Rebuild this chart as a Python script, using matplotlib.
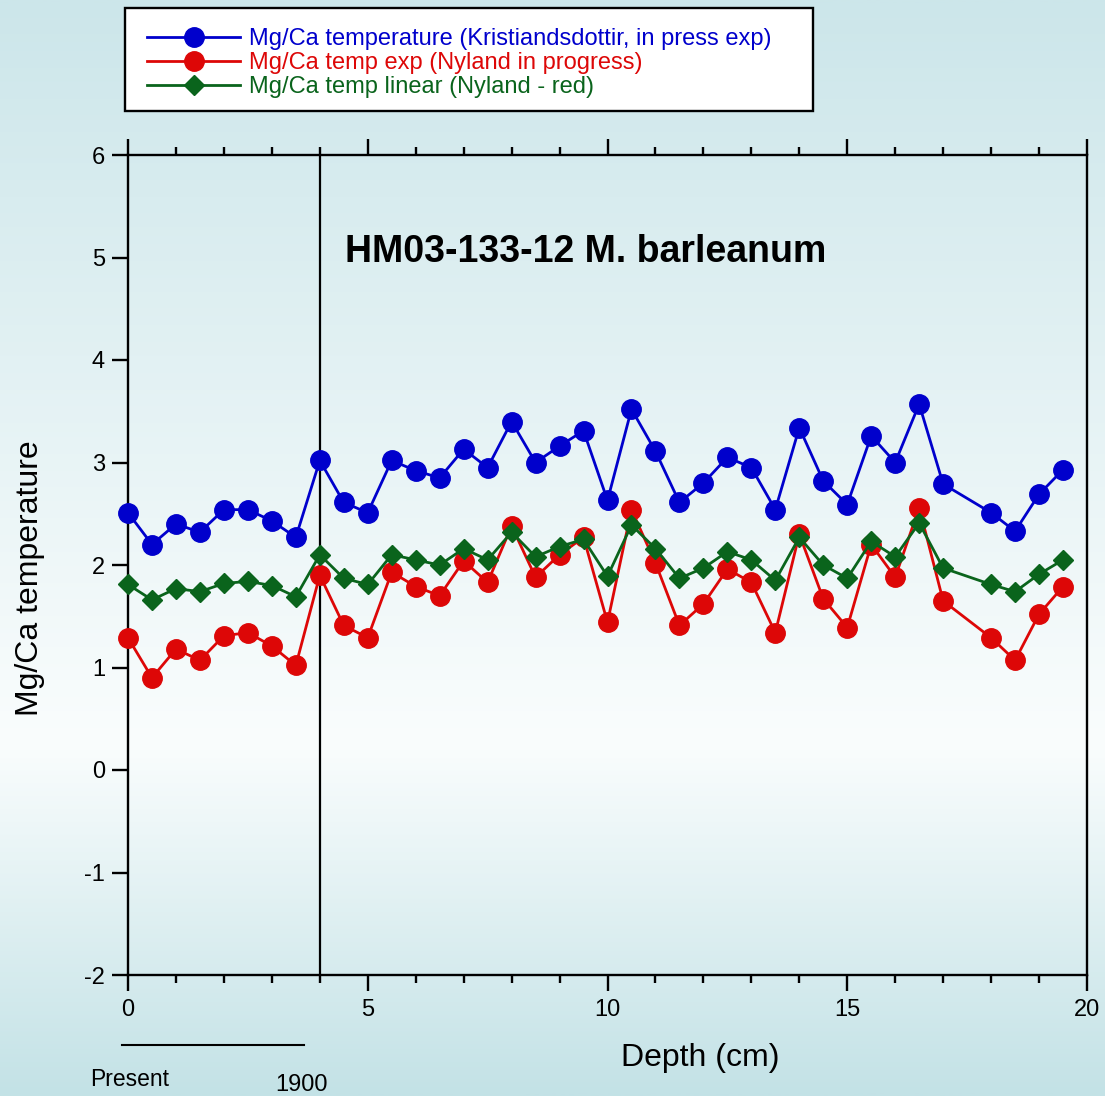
import numpy as np
import matplotlib
matplotlib.use("Agg")
import matplotlib.pyplot as plt
from matplotlib.patches import Rectangle
from matplotlib.lines import Line2D
from matplotlib.colors import LinearSegmentedColormap

plt.rcParams['font.family'] = ['Liberation Sans', 'DejaVu Sans']
plt.rcParams['axes.unicode_minus'] = False

# depth (cm) for each sample
depth = [0, 0.5, 1, 1.5, 2, 2.5, 3, 3.5, 4, 4.5, 5, 5.5, 6, 6.5, 7, 7.5, 8, 8.5,
         9, 9.5, 10, 10.5, 11, 11.5, 12, 12.5, 13, 13.5, 14, 14.5, 15, 15.5, 16,
         16.5, 17, 18, 18.5, 19, 19.5]

temp_kristiansdottir = [2.51, 2.20, 2.40, 2.32, 2.54, 2.54, 2.43, 2.27, 3.02, 2.61,
                        2.51, 3.02, 2.92, 2.85, 3.13, 2.95, 3.40, 3.00, 3.16, 3.31,
                        2.63, 3.52, 3.11, 2.61, 2.80, 3.05, 2.95, 2.54, 3.34, 2.82,
                        2.59, 3.26, 3.00, 3.57, 2.79, 2.51, 2.33, 2.69, 2.93]

temp_exp = [1.29, 0.90, 1.18, 1.07, 1.31, 1.34, 1.21, 1.02, 1.90, 1.41,
            1.29, 1.93, 1.79, 1.70, 2.04, 1.83, 2.38, 1.88, 2.10, 2.27,
            1.44, 2.54, 2.02, 1.41, 1.62, 1.96, 1.83, 1.34, 2.30, 1.67,
            1.39, 2.20, 1.88, 2.56, 1.65, 1.29, 1.07, 1.52, 1.79]

temp_linear = [1.81, 1.66, 1.77, 1.74, 1.82, 1.84, 1.80, 1.69, 2.10, 1.87,
               1.81, 2.10, 2.05, 2.00, 2.16, 2.05, 2.32, 2.08, 2.18, 2.25,
               1.89, 2.39, 2.16, 1.87, 1.97, 2.13, 2.05, 1.85, 2.27, 2.00,
               1.87, 2.23, 2.08, 2.41, 1.97, 1.81, 1.74, 1.91, 2.05]

labels = ["Mg/Ca temperature (Kristiandsdottir, in press exp)",
          "Mg/Ca temp exp (Nyland in progress)",
          "Mg/Ca temp linear (Nyland - red)"]

W, H = 1105, 1096
fig = plt.figure(figsize=(W / 100, H / 100), dpi=100)

# background gradient: light blue top and bottom, near white below middle
bg = fig.add_axes([0, 0, 1, 1], zorder=-10)
cmap = LinearSegmentedColormap.from_list(
    "bg", [(0.0, (195/255, 226/255, 230/255)),
           (0.32, (250/255, 253/255, 253/255)),
           (1.0, (204/255, 230/255, 234/255))])
grad = np.linspace(0, 1, 512).reshape(-1, 1)
bg.imshow(grad, aspect='auto', cmap=cmap, origin='lower', extent=[0, 1, 0, 1])
bg.set_axis_off()

ax = fig.add_axes([128 / W, 1 - 975 / H, (1087 - 128) / W, (975 - 155) / H])
ax.patch.set_alpha(0)

lw = 2.0
ax.plot(depth, temp_kristiansdottir, color='#0000cc', lw=lw, marker='o', ms=14,
        clip_on=False, zorder=3, label=labels[0])
ax.plot(depth, temp_exp, color='#dd0707', lw=lw, marker='o', ms=14,
        clip_on=False, zorder=4, label=labels[1])
ax.plot(depth, temp_linear, color='#0a641c', lw=lw, marker='D', ms=10.5,
        clip_on=False, zorder=5, label=labels[2])

ax.axvline(4, color='black', lw=1.6, zorder=2)

ax.set_xlim(0, 20)
ax.set_ylim(-2, 6)
ax.set_xticks(np.arange(0, 21, 5))
ax.set_xticks(np.arange(0, 21, 1), minor=True)
ax.set_yticks(np.arange(-2, 7, 1))

for s in ax.spines.values():
    s.set_linewidth(1.7)

ax.tick_params(axis='x', which='major', direction='out', top=True, bottom=True,
               length=11.5, width=1.7, labelsize=17, pad=6)
ax.tick_params(axis='x', which='minor', direction='out', top=True, bottom=True,
               length=6, width=1.7)
ax.tick_params(axis='y', which='major', direction='out', left=True, right=False,
               length=11.5, width=1.7, labelsize=17, pad=5)

ax.set_xlabel("Depth (cm)", fontsize=23)
ax.xaxis.set_label_coords((700 - 128) / 959, (975 - 1058) / 820)
ax.xaxis.label.set_verticalalignment('center')
ax.set_ylabel("Mg/Ca temperature", fontsize=23)
ax.yaxis.set_label_coords((30 - 128) / 959, (975 - 578) / 820)
ax.yaxis.label.set_verticalalignment('center')

ax.text((345 - 128) / 959, (975 - 252) / 820, "HM03-133-12 M. barleanum",
        transform=ax.transAxes, fontsize=27, fontweight='bold', va='center', ha='left')

# time scale note below the axis
ax.add_line(Line2D([(122 - 128) / 959, (304 - 128) / 959],
                   [(975 - 1045) / 820] * 2, transform=ax.transAxes,
                   color='black', lw=1.5, clip_on=False))
fig.text(90 / W, 1 - 1080 / H, "Present", fontsize=16.5, va='center', ha='left')
fig.text(275 / W, 1 - 1085 / H, "1900", fontsize=17, va='center', ha='left')

# legend box
fig.add_artist(Rectangle((125 / W, 1 - 111 / H), (813 - 125) / W, (111 - 8) / H,
                         transform=fig.transFigure, facecolor='white',
                         edgecolor='black', lw=1.7, zorder=5))
leg = fig.legend(loc='upper left', bbox_to_anchor=(147 / W, 1 - 28 / H),
                 frameon=False, fontsize=17, borderpad=0, borderaxespad=0,
                 handlelength=3.95, handletextpad=0.35, labelspacing=0.08,
                 labelcolor='linecolor')
leg.set_zorder(6)

fig.savefig("out.png", dpi=100)
